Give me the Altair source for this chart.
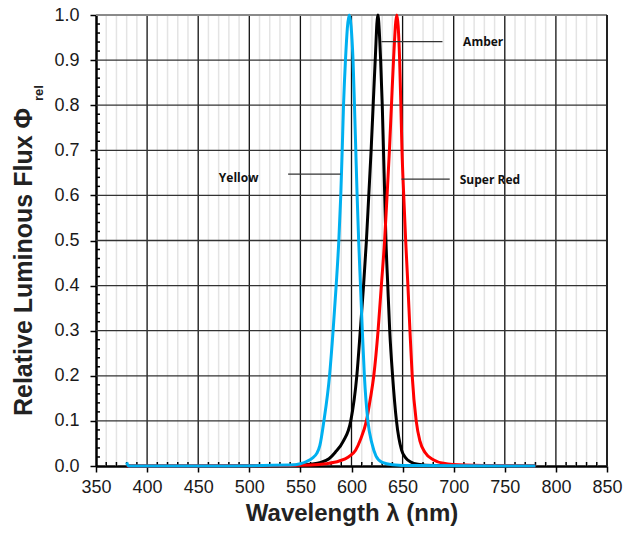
import altair as alt
import pandas as pd

# ---------------- data ----------------
yellow_wl = [380, 382, 450, 540, 550, 556, 562, 566, 569, 573, 578.5, 582, 585, 587.6, 589.5, 590.9,
             592.2, 594.1, 597.7, 601.5, 602.9, 604.2, 605.5, 607, 608.8, 610.6, 612.6, 616,
             620, 624, 630, 640, 660, 780]
yellow_val = [0.008, 0, 0, 0.002, 0.005, 0.01, 0.018, 0.028, 0.045, 0.1, 0.2, 0.3, 0.4, 0.5, 0.6, 0.7,
              0.8, 0.9, 1.0, 0.9, 0.8, 0.7, 0.6, 0.5, 0.4, 0.3, 0.2, 0.1,
              0.05, 0.022, 0.008, 0.003, 0.001, 0]

amber_wl = [380, 540, 560, 570, 578, 584, 592, 599.3, 605.2, 608.6, 611.8, 614.6, 616.9, 619.2,
            621.2, 623.2, 625.7, 628.5, 630.1, 631.3, 632.5, 633.7, 635.5, 637.4, 640.2, 644,
            649, 653, 658, 665, 680, 780]
amber_val = [0, 0.001, 0.004, 0.008, 0.016, 0.03, 0.055, 0.1, 0.2, 0.3, 0.4, 0.5, 0.6, 0.7,
             0.8, 0.9, 1.0, 0.9, 0.8, 0.7, 0.6, 0.5, 0.4, 0.3, 0.2, 0.1,
             0.035, 0.018, 0.009, 0.004, 0.001, 0]

red_wl = [380, 540, 560, 575, 588, 597, 604, 609, 614.6, 618.5, 621.8, 626, 629.2, 632.4, 634.8,
          637.1, 639.1, 641.1, 644.3, 647.1, 648.3, 649.4, 651.1, 653, 655.2, 657.2, 659.4,
          663.3, 667, 672, 680, 690, 710, 780]
red_val = [0, 0.001, 0.002, 0.005, 0.011, 0.02, 0.035, 0.06, 0.1, 0.15, 0.2, 0.3, 0.4, 0.5, 0.6,
           0.7, 0.8, 0.9, 1.0, 0.9, 0.8, 0.7, 0.6, 0.5, 0.4, 0.3, 0.2,
           0.1, 0.055, 0.03, 0.014, 0.006, 0.002, 0]

x_ticks = [350, 400, 450, 500, 550, 600, 650, 700, 750, 800, 850]
y_ticks = [0.0, 0.1, 0.2, 0.3, 0.4, 0.5, 0.6, 0.7, 0.8, 0.9, 1.0]
x_minor = [v for v in range(360, 850, 10) if v % 50]
y_minor = [round(0.02 * i, 2) for i in range(1, 50) if i % 5]

label_names = ["Yellow", "Amber", "Super Red"]
label_x = [470.2, 709.2, 705.9]
label_y = [0.638, 0.941, 0.634]
leader_x1 = [538.0, 629.3, 648.9]
leader_x2 = [589.2, 689.0, 696.1]
leader_y = [0.647, 0.941, 0.636]

W, H = 511, 451
FONT = "Liberation Sans"

xs = alt.Scale(domain=[350, 850], nice=False, zero=False)
ys = alt.Scale(domain=[0, 1], nice=False, zero=False)

# ---------------- curves ----------------
def curve(wl, val, color, with_axes=False, opacity=1.0):
    df = pd.DataFrame({"wl": wl, "v": val})
    if with_axes:
        xenc = alt.X("wl:Q", scale=xs, axis=alt.Axis(
            values=x_ticks, title="Wavelength λ (nm)", grid=False,
            domainColor="black", domainWidth=2.5, tickColor="black", tickWidth=1.5,
            tickSize=6, labelFont=FONT, labelFontSize=18, labelColor="#1a1a1a",
            labelPadding=20, labelBaseline="alphabetic", labelFlush=False,
            titleFont=FONT, titleFontSize=24, titleFontWeight="bold", titleColor="#222222",
            titleBaseline="alphabetic", titleY=54, titleX=W / 2, titleAnchor="middle"))
        yenc = alt.Y("v:Q", scale=ys, axis=alt.Axis(
            values=y_ticks, format=".1f", title=None, grid=False,
            domainColor="black", domainWidth=2.5, tickColor="black", tickWidth=1.5,
            tickSize=6, labelFont=FONT, labelFontSize=18, labelColor="#1a1a1a",
            labelPadding=11, labelFlush=False))
    else:
        xenc = alt.X("wl:Q", scale=xs)
        yenc = alt.Y("v:Q", scale=ys)
    return alt.Chart(df).mark_line(color=color, strokeWidth=3, interpolate="monotone",
                                   strokeOpacity=opacity).encode(x=xenc, y=yenc)

axes_carrier = curve(amber_wl, amber_val, "#000000", with_axes=True, opacity=0.0)
amber_line = curve(amber_wl, amber_val, "#000000")
red_line = curve(red_wl, red_val, "#ff0000")
yellow_line = curve(yellow_wl, yellow_val, "#00b0f0")

# ---------------- grid ----------------
minor_grid = alt.Chart(pd.DataFrame({"x": x_minor})).mark_rule(
    color="#e4e4e4", strokeWidth=1.5
).encode(x=alt.X("x:Q", scale=xs))

major_vgrid = alt.Chart(pd.DataFrame({"x": x_ticks[1:-1]})).mark_rule(
    color="#111111", strokeWidth=1.3
).encode(x=alt.X("x:Q", scale=xs))

major_hgrid = alt.Chart(pd.DataFrame({"y": y_ticks[1:-1]})).mark_rule(
    color="#333333", strokeWidth=1.3
).encode(y=alt.Y("y:Q", scale=ys))

top_border = alt.Chart(pd.DataFrame({"y": [1.0]})).mark_rule(
    color="#8a8a8a", strokeWidth=2
).encode(y=alt.Y("y:Q", scale=ys))

right_border = alt.Chart(pd.DataFrame({"x": [850]})).mark_rule(
    color="#222222", strokeWidth=2
).encode(x=alt.X("x:Q", scale=xs))

x_minor_ticks = alt.Chart(pd.DataFrame({"x": x_minor})).mark_rule(
    color="black", strokeWidth=1.5
).encode(x=alt.X("x:Q", scale=xs), y=alt.value(H), y2=alt.value(H - 4))

y_minor_ticks = alt.Chart(pd.DataFrame({"y": y_minor})).mark_rule(
    color="black", strokeWidth=1.5
).encode(y=alt.Y("y:Q", scale=ys), x=alt.value(0), x2=alt.value(4))

# ---------------- annotations ----------------
ann = pd.DataFrame({"name": label_names, "x": label_x, "y": label_y,
                    "x1": leader_x1, "x2": leader_x2, "ly": leader_y})

leaders = alt.Chart(ann).mark_rule(color="#333333", strokeWidth=1.3).encode(
    x=alt.X("x1:Q", scale=xs), x2="x2:Q",
    y=alt.Y("ly:Q", scale=ys))

labels = alt.Chart(ann).mark_text(
    align="left", baseline="middle", font="Open Sans", fontWeight="bold",
    fontSize=12, color="#111111").encode(
    x=alt.X("x:Q", scale=xs), y=alt.Y("y:Q", scale=ys), text="name:N")

ytitle = alt.Chart(pd.DataFrame({"t": ["Relative Luminous Flux Φ"]})).mark_text(
    angle=270, align="center", baseline="middle", font=FONT, fontWeight="bold",
    fontSize=25, color="#222222").encode(x=alt.value(-72), y=alt.value(247), text="t:N")

ysub = alt.Chart(pd.DataFrame({"t": ["rel"]})).mark_text(
    angle=270, align="center", baseline="middle", font=FONT, fontWeight="bold",
    fontSize=13, color="#222222").encode(x=alt.value(-57), y=alt.value(78), text="t:N")

chart = alt.layer(
    axes_carrier,
    minor_grid, major_vgrid, major_hgrid, top_border, right_border,
    x_minor_ticks, y_minor_ticks,
    amber_line, red_line, yellow_line,
    leaders, labels, ytitle, ysub,
).properties(
    width=W, height=H,
    padding={"left": 96, "top": 15, "right": 31, "bottom": 71},
    autosize=alt.AutoSizeParams(type="none"),
).configure_view(stroke=None).configure(background="white")

chart.save("out.html", embed_options={"renderer": "svg", "actions": False})
